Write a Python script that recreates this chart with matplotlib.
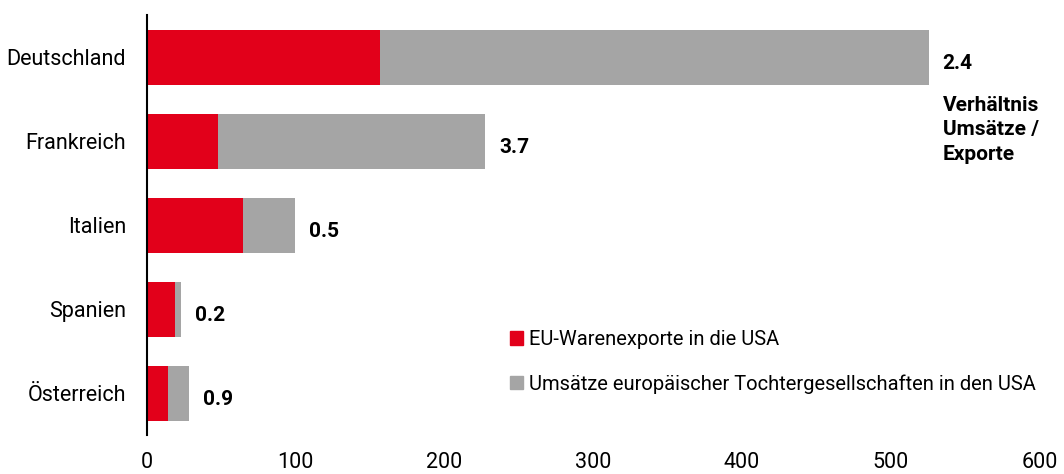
import numpy as np
import matplotlib.pyplot as plt
from matplotlib.patches import Patch

plt.rcParams['font.family'] = ['Roboto', 'DejaVu Sans']

countries = ['Deutschland', 'Frankreich', 'Italien', 'Spanien', 'Österreich']
exports = [156.5, 47.7, 64.4, 18.8, 14.1]      # EU-Warenexporte in die USA
sales = [369.0, 179.8, 34.9, 4.0, 14.1]        # Umsätze der Tochtergesellschaften
ratios = ['2.4', '3.7', '0.5', '0.2', '0.9']
xticks = [0, 100, 200, 300, 400, 500, 600]

RED = '#E2001A'
GRAY = '#A5A5A5'

fig = plt.figure(figsize=(10.64, 4.74), dpi=100)
ax = fig.add_axes([0.138, 0.082, 0.839, 0.886])

y = np.arange(len(countries))
ax.barh(y, exports, height=0.655, color=RED, label='EU-Warenexporte in die USA')
ax.barh(y, sales, left=exports, height=0.655, color=GRAY,
        label='Umsätze europäischer Tochtergesellschaften in den USA')

totals = np.array(exports) + np.array(sales)
for yi, tot, r in zip(y, totals, ratios):
    ax.annotate(r, xy=(tot, yi), xytext=(14, -6), textcoords='offset pixels',
                ha='left', va='center', fontsize=15, fontweight='bold')

ax.annotate('Verhältnis\nUmsätze /\nExporte', xy=(totals[0], 0), xytext=(14, -39),
            textcoords='offset pixels', ha='left', va='top', fontsize=15,
            fontweight='bold', linespacing=1.35)

ax.set_xlim(0, 600)
ax.set_ylim(4.5, -0.5)
ax.set_yticks(y)
ax.set_yticklabels(countries)
ax.set_xticks(xticks)
ax.tick_params(axis='x', length=0, pad=12, labelsize=15.5)
ax.tick_params(axis='y', length=0, pad=15, labelsize=15.5)

for s in ['top', 'right', 'bottom']:
    ax.spines[s].set_visible(False)
ax.spines['left'].set_linewidth(1.5)
ax.spines['left'].set_color('black')

handles = [Patch(color=RED), Patch(color=GRAY)]
labels = ['EU-Warenexporte in die USA',
          'Umsätze europäischer Tochtergesellschaften in den USA']
fig.legend(handles, labels, loc='upper left', bbox_to_anchor=(510 / 1064, 1 - 330 / 474),
           frameon=False, fontsize=14.5, handlelength=0.65, handleheight=0.65,
           handletextpad=0.3, labelspacing=1.25, borderaxespad=0, borderpad=0)

fig.savefig('out.png', dpi=100)
